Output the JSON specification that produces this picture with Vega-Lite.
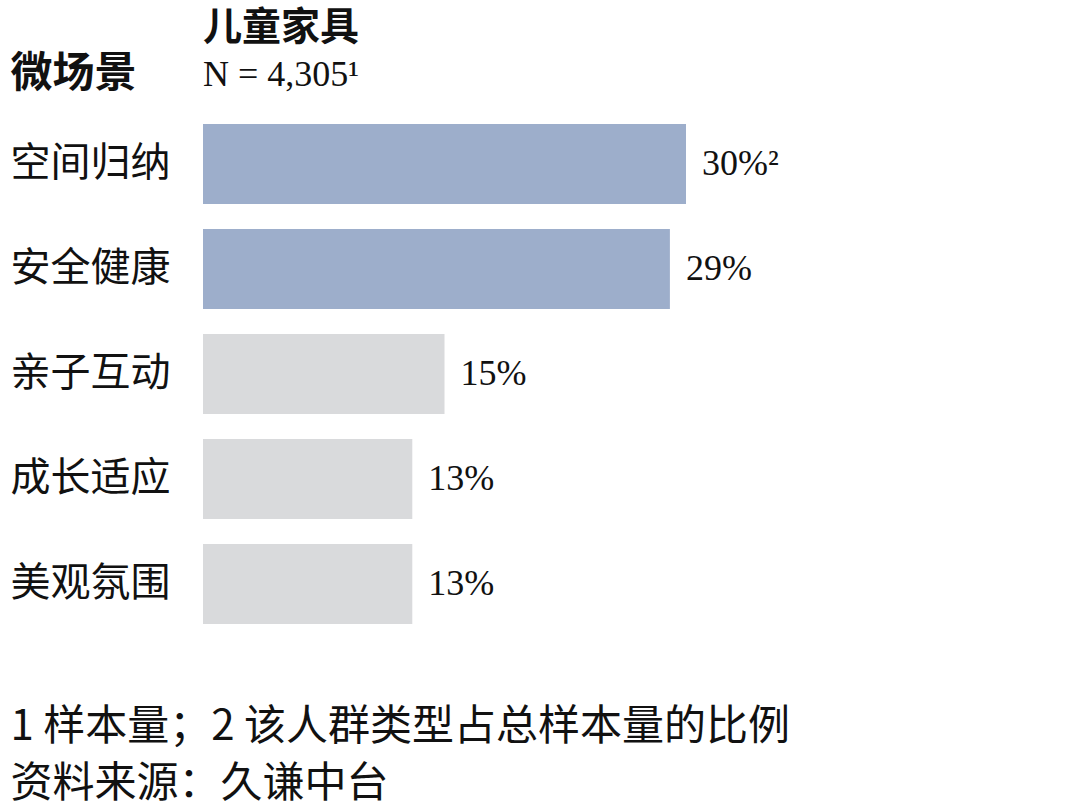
{
  "$schema": "https://vega.github.io/schema/vega-lite/v6.json",
  "autosize": {"type": "none"},
  "padding": {"left": 203, "top": 111.5, "right": 72, "bottom": 173.5},
  "width": 805,
  "height": 525,
  "background": "white",
  "title": {
    "text": "儿童家具",
    "subtitle": "N = 4,305¹",
    "anchor": "start",
    "frame": "group",
    "font": "Noto Sans CJK SC",
    "fontSize": 39,
    "fontWeight": "bold",
    "color": "#111111",
    "subtitleFont": "Liberation Serif",
    "subtitleFontSize": 36,
    "subtitleColor": "#111111",
    "subtitlePadding": 10,
    "offset": -40
  },
  "data": {
    "values": [
      {"scene": "空间归纳", "share": 30, "label": "30%²", "tier": "top"},
      {"scene": "安全健康", "share": 29, "label": "29%", "tier": "top"},
      {"scene": "亲子互动", "share": 15, "label": "15%", "tier": "other"},
      {"scene": "成长适应", "share": 13, "label": "13%", "tier": "other"},
      {"scene": "美观氛围", "share": 13, "label": "13%", "tier": "other"}
    ]
  },
  "encoding": {
    "y": {
      "field": "scene", "type": "nominal", "sort": null,
      "scale": {"paddingInner": 0.238, "paddingOuter": 0.119},
      "axis": {
        "title": "微场景",
        "titleFont": "Noto Sans CJK SC", "titleFontSize": 42, "titleFontWeight": "bold", "titleColor": "#111111",
        "titleAngle": 0, "titleAlign": "left", "titleBaseline": "alphabetic",
        "titleX": -193, "titleY": -25,
        "labelFont": "Noto Sans CJK SC", "labelFontSize": 40, "labelColor": "#111111",
        "labelAlign": "left", "labelBaseline": "middle", "labelPadding": 193,
        "ticks": false, "domain": false, "grid": false
      }
    },
    "x": {
      "field": "share", "type": "quantitative",
      "scale": {"domain": [0, 50]},
      "axis": {
        "title": ["1 样本量；2 该人群类型占总样本量的比例", "资料来源：久谦中台"],
        "titleFont": "Noto Sans CJK SC", "titleFontSize": 42, "titleFontWeight": "normal", "titleColor": "#111111",
        "titleAnchor": "start", "titleAlign": "left", "titleBaseline": "alphabetic",
        "titleLineHeight": 57,
        "titleX": -193, "titleY": 103,
        "labels": false, "ticks": false, "domain": false, "grid": false
      }
    }
  },
  "layer": [
    {
      "mark": {"type": "bar"},
      "encoding": {
        "color": {
          "field": "tier", "type": "nominal",
          "scale": {"domain": ["top", "other"], "range": ["#9daecb", "#d9dadc"]},
          "legend": null
        }
      }
    },
    {
      "mark": {"type": "text", "align": "left", "baseline": "middle", "dx": 16, "font": "Liberation Serif", "fontSize": 36, "color": "#111111"},
      "encoding": {"text": {"field": "label"}}
    }
  ],
  "config": {"view": {"stroke": null}}
}
